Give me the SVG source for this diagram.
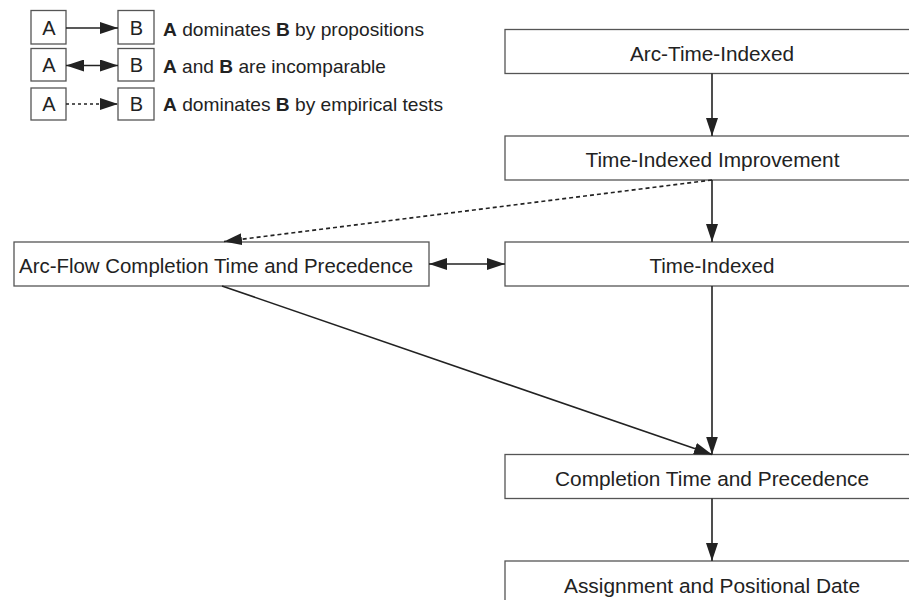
<svg xmlns="http://www.w3.org/2000/svg" width="909" height="600" viewBox="0 0 909 600">
<style>
.box{fill:#fff;stroke:#555;stroke-width:1.3}
.t{font-family:"Liberation Sans",Arial,sans-serif;font-size:20.5px;fill:#222;text-anchor:middle}
.la{font-family:"Liberation Sans",Arial,sans-serif;font-size:20px;fill:#222;text-anchor:middle}
.lt{font-family:"Liberation Sans",Arial,sans-serif;font-size:18.6px;fill:#222}
.e{stroke:#222;stroke-width:1.6;fill:none}
.d{stroke-dasharray:4 3}
</style>
<defs>
<marker id="ah" viewBox="0 0 18 12" refX="18" refY="6" markerWidth="18" markerHeight="12" markerUnits="userSpaceOnUse" orient="auto-start-reverse">
<path d="M0,0 L18,6 L0,12 Z" fill="#222"/>
</marker>
</defs>
<rect x="0" y="0" width="909" height="600" fill="#fff"/>
<g id="legend">
<rect class="box" x="31" y="10.5" width="35" height="33.5"/>
<text class="la" x="49" y="35">A</text>
<rect class="box" x="118" y="10.5" width="36" height="33.5"/>
<text class="la" x="136.5" y="35">B</text>
<text class="lt" x="163" y="36" textLength="261" lengthAdjust="spacingAndGlyphs"><tspan font-weight="bold">A</tspan> dominates <tspan font-weight="bold">B</tspan> by propositions</text>
<rect class="box" x="31" y="48.5" width="35" height="32.5"/>
<text class="la" x="49" y="72">A</text>
<rect class="box" x="118" y="48.5" width="36" height="32.5"/>
<text class="la" x="136.5" y="72">B</text>
<text class="lt" x="163" y="73" textLength="223" lengthAdjust="spacingAndGlyphs"><tspan font-weight="bold">A</tspan> and <tspan font-weight="bold">B</tspan> are incomparable</text>
<rect class="box" x="31" y="88" width="35" height="32"/>
<text class="la" x="49" y="111">A</text>
<rect class="box" x="118" y="88" width="36" height="32"/>
<text class="la" x="136.5" y="111">B</text>
<text class="lt" x="163" y="111" textLength="280" lengthAdjust="spacingAndGlyphs"><tspan font-weight="bold">A</tspan> dominates <tspan font-weight="bold">B</tspan> by empirical tests</text>
<path class="e" d="M66,28 H118" marker-end="url(#ah)"/>
<path class="e" d="M66,65.5 H118" marker-start="url(#ah)" marker-end="url(#ah)"/>
<path class="e" d="M66,104 H118" stroke-dasharray="3 3" marker-end="url(#ah)"/>
</g>
<g id="n1"><rect class="box" x="505" y="29.5" width="420" height="44"/><text class="t" x="712" y="61" textLength="164" lengthAdjust="spacingAndGlyphs">Arc-Time-Indexed</text></g>
<g id="n2"><rect class="box" x="505" y="136" width="420" height="44"/><text class="t" x="712.5" y="167.3" textLength="254" lengthAdjust="spacingAndGlyphs">Time-Indexed Improvement</text></g>
<g id="n3"><rect class="box" x="505" y="242" width="420" height="44"/><text class="t" x="712" y="273.3" textLength="125" lengthAdjust="spacingAndGlyphs">Time-Indexed</text></g>
<g id="n4"><rect class="box" x="14" y="242" width="415" height="44"/><text class="t" x="216" y="273.3" textLength="394" lengthAdjust="spacingAndGlyphs">Arc-Flow Completion Time and Precedence</text></g>
<g id="n5"><rect class="box" x="505" y="454.5" width="420" height="44"/><text class="t" x="712" y="486" textLength="314" lengthAdjust="spacingAndGlyphs">Completion Time and Precedence</text></g>
<g id="n6"><rect class="box" x="505" y="561" width="420" height="44"/><text class="t" x="712" y="592.5" textLength="296" lengthAdjust="spacingAndGlyphs">Assignment and Positional Date</text></g>
<g id="edges">
<path class="e" d="M712,73.5 V136" marker-end="url(#ah)"/>
<path class="e" d="M712,180 V242" marker-end="url(#ah)"/>
<path class="e" d="M712,286 V454.5" marker-end="url(#ah)"/>
<path class="e" d="M712,498.5 V561" marker-end="url(#ah)"/>
<path class="e" d="M429,264 H505" marker-start="url(#ah)" marker-end="url(#ah)"/>
<path class="e d" d="M712,180 L224,241.5" marker-end="url(#ah)"/>
<path class="e" d="M222,286 L712,454.5" marker-end="url(#ah)"/>
</g>
</svg>
